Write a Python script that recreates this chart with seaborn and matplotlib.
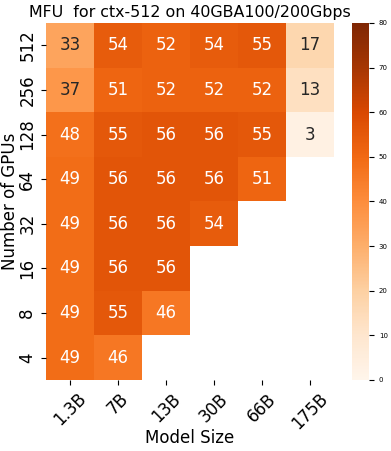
import numpy as np
import pandas as pd
import matplotlib
matplotlib.use("Agg")
import matplotlib.pyplot as plt
import seaborn as sns

model_sizes = ["1.3B", "7B", "13B", "30B", "66B", "175B"]
gpus = ["512", "256", "128", "64", "32", "16", "8", "4"]
row_512 = [33, 54, 52, 54, 55, 17]
row_256 = [37, 51, 52, 52, 52, 13]
row_128 = [48, 55, 56, 56, 55, 3]
row_64 = [49, 56, 56, 56, 51, np.nan]
row_32 = [49, 56, 56, 54, np.nan, np.nan]
row_16 = [49, 56, 56, np.nan, np.nan, np.nan]
row_8 = [49, 55, 46, np.nan, np.nan, np.nan]
row_4 = [49, 46, np.nan, np.nan, np.nan, np.nan]

df = pd.DataFrame([row_512, row_256, row_128, row_64, row_32, row_16, row_8, row_4],
                  index=gpus, columns=model_sizes)

W, H = 391, 451
fig = plt.figure(figsize=(W / 100, H / 100), dpi=100)
ax = fig.add_axes([46 / W, (H - 380) / H, 288 / W, 357 / H])
cax = fig.add_axes([352 / W, (H - 380) / H, 17 / W, 357 / H])

sns.heatmap(df, ax=ax, cbar_ax=cax, cmap="Oranges", vmin=0, vmax=80,
            annot=True, fmt=".0f", annot_kws={"fontsize": 12})
ax.set_title("MFU  for ctx-512 on 40GBA100/200Gbps", fontsize=11.4, pad=4)
ax.set_xlabel("Model Size", fontsize=12, labelpad=-3)
ax.set_ylabel("Number of GPUs", fontsize=12)
ax.set_xticklabels(model_sizes, rotation=45, fontsize=12)
ax.set_yticklabels(gpus, rotation=90, fontsize=12, va="center")
ax.yaxis.set_label_coords(-0.095, 0.5)
cax.tick_params(labelsize=5)
fig.savefig("out.png", dpi=100)
